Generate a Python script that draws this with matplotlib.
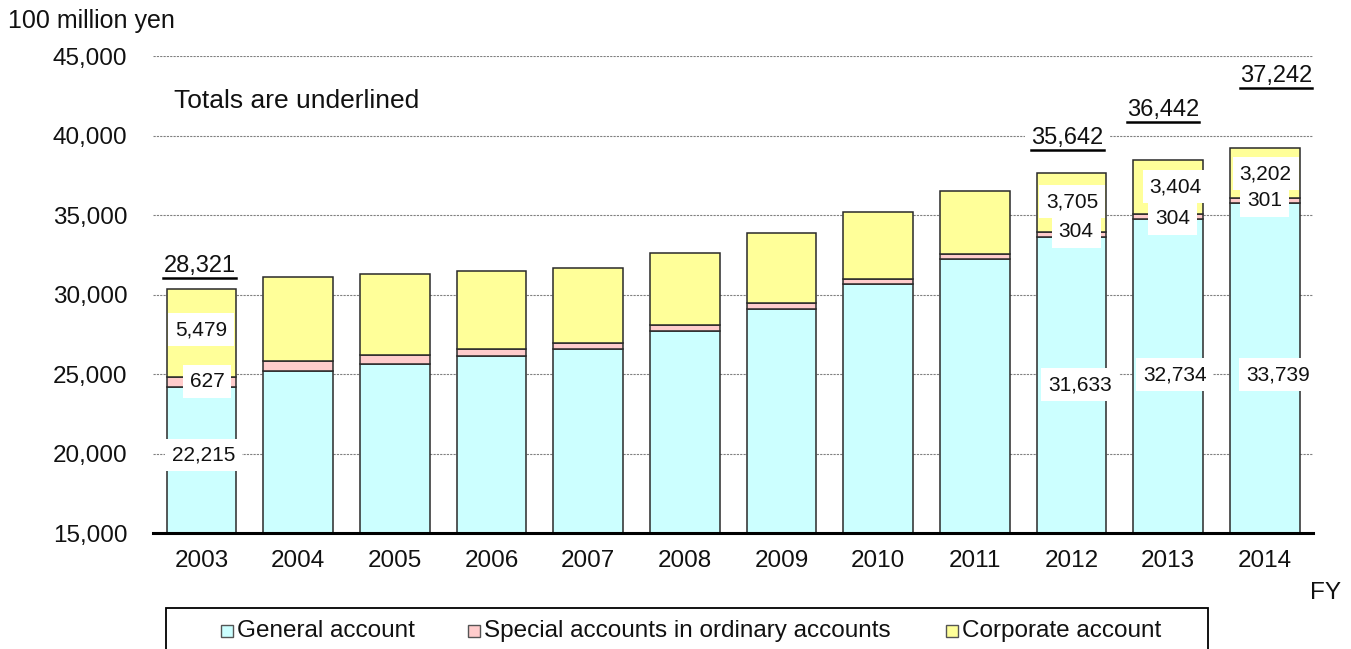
import numpy as np
import matplotlib.pyplot as plt
from matplotlib.lines import Line2D
from matplotlib.patches import Rectangle
from matplotlib.ticker import FuncFormatter

plt.rcParams['font.family'] = ['Liberation Sans', 'DejaVu Sans']

# Fiscal years and account balances (100 million yen)
years = ["2003", "2004", "2005", "2006", "2007", "2008",
         "2009", "2010", "2011", "2012", "2013", "2014"]
general = [22215, 23215, 23658, 24142, 24585, 25679,
           27112, 28692, 30250, 31633, 32734, 33739]
special = [627, 608, 526, 443, 355, 398,
           335, 291, 296, 304, 304, 301]
corporate = [5479, 5278, 5126, 4896, 4703, 4510,
             4404, 4194, 3958, 3705, 3404, 3202]
series_names = ["General account", "Special accounts in ordinary accounts",
                "Corporate account"]
colors = ["#CCFFFF", "#FFCCCC", "#FFFF99"]

# years that carry value labels: (dx, y) for total, corporate, special, general
label_years = [0, 9, 10, 11]
label_pos = {
    0: [(-0.02, 29784), (0.00, 25792), (0.06, 22539), (0.02, 17908)],
    9: [(-0.04, 37870), (0.01, 33827), (0.05, 31932), (0.09, 22330)],
    10: [(-0.05, 39576), (0.08, 34775), (0.05, 32753), (0.07, 22962)],
    11: [(0.12, 41724), (0.01, 35596), (0.00, 33890), (0.14, 22962)],
}

# scale labels run 2,000 above the plotted value
axis_shift = 2000

general = np.array(general)
special = np.array(special)
corporate = np.array(corporate)
totals = general + special + corporate
x = np.arange(len(years))
width = 0.72

W, H = 1351, 649
fig = plt.figure(figsize=(W / 100, H / 100), dpi=100)
ax = fig.add_axes([0.1133, 0.1787, 0.8586, 0.735])

edge = dict(edgecolor="#2a2a2a", linewidth=1.1, zorder=3)
ax.bar(x, general, width, color=colors[0], **edge)
ax.bar(x, special, width, bottom=general, color=colors[1], **edge)
ax.bar(x, corporate, width, bottom=general + special, color=colors[2], **edge)

ax.set_xlim(-0.5, len(years) - 0.5)
ax.set_ylim(13000, 43000)
ax.set_yticks(np.arange(13000, 43001, 5000))
ax.yaxis.set_major_formatter(FuncFormatter(lambda v, p: f"{v + axis_shift:,.0f}"))
ax.set_xticks(x)
ax.set_xticklabels(years)
ax.tick_params(axis="both", length=0, labelsize=17.5, colors="#111111")
ax.tick_params(axis="x", pad=12)
ax.tick_params(axis="y", pad=18.5)

ax.grid(axis="y", color="#808080", linestyle=(0, (2, 1)), linewidth=0.8, zorder=0)
for side in ["left", "right", "top"]:
    ax.spines[side].set_visible(False)
ax.spines["bottom"].set_linewidth(2.2)
ax.spines["bottom"].set_zorder(5)

box = dict(facecolor="white", edgecolor="none", pad=5)
underline_texts = []
for i in label_years:
    vals = [totals[i], corporate[i], special[i], general[i]]
    for k, ((dx, y), v) in enumerate(zip(label_pos[i], vals)):
        t = ax.text(x[i] + dx, y, f"{v:,}", ha="center", va="center",
                    fontsize=17 if k == 0 else 15, bbox=box, zorder=6,
                    color="#111111")
        if k == 0:
            underline_texts.append(t)

ax.text(0.018, 0.905, "Totals are underlined", transform=ax.transAxes,
        fontsize=19, va="center", ha="left", color="#111111")
fig.text(0.006, 0.968, "100 million yen", fontsize=18, va="center", ha="left",
         color="#111111")
fig.text(0.981, 0.086, "FY", fontsize=17.5, va="center", ha="center",
         color="#111111")

# legend frame, running past the bottom edge
fig.add_artist(Rectangle((166 / W, -0.05), (1208 - 166) / W, 0.05 + 1 - 608 / H,
                         transform=fig.transFigure, facecolor="white",
                         edgecolor="black", linewidth=1.3))
legend_x = [221, 468, 946]
ly = 1 - 631 / H
for lx, c, name in zip(legend_x, colors, series_names):
    fig.add_artist(Rectangle((lx / W, ly - 6 / H), 12 / W, 12 / H,
                             transform=fig.transFigure, facecolor=c,
                             edgecolor="#555555", linewidth=1.0))
    fig.text((lx + 16) / W, ly, name, fontsize=17.5, va="center", ha="left",
             color="#111111")

# underline the total labels
fig.canvas.draw()
renderer = fig.canvas.get_renderer()
inv = fig.transFigure.inverted()
for t in underline_texts:
    bb = t.get_window_extent(renderer=renderer)
    (x0, y0), (x1, _) = inv.transform([(bb.x0, bb.y0 - 1), (bb.x1, bb.y0)])
    fig.add_artist(Line2D([x0, x1], [y0, y0], transform=fig.transFigure,
                          color="black", linewidth=1.8, zorder=7))

fig.savefig("out.png", dpi=100)
